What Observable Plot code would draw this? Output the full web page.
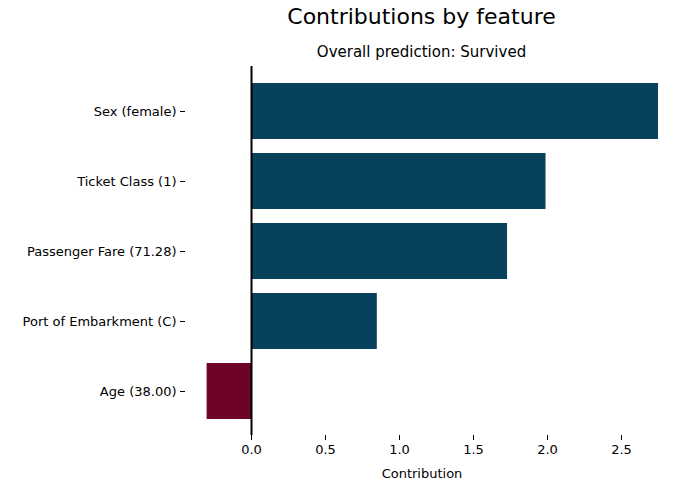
<!DOCTYPE html>
<html><head><meta charset="utf-8">
<script src="https://cdn.jsdelivr.net/npm/d3@7"></script>
<script src="https://cdn.jsdelivr.net/npm/@observablehq/plot@0.6"></script>
<style>
body{margin:0;font-family:"DejaVu Sans",sans-serif;background:#fff}
#t{position:absolute;left:185px;width:473px;top:4px;text-align:center;font-size:22px}
#s{position:absolute;left:185px;width:473px;top:43px;text-align:center;font-size:15px}
#chart{position:absolute;left:0;top:66px}
</style></head><body>
<div id="t">Contributions by feature</div>
<div id="s">Overall prediction: Survived</div>
<div id="chart"></div>
<script>
const features = ['Sex (female)', 'Ticket Class (1)', 'Passenger Fare (71.28)', 'Port of Embarkment (C)', 'Age (38.00)'];
const contributions = [2.75, 1.99, 1.73, 0.85, -0.30];
const data = features.map((f, i) => ({feature: f, value: contributions[i]}));

const chart = Plot.plot({
  width: 690,
  height: 424,
  marginLeft: 185,
  marginRight: 32,
  marginTop: 0,
  marginBottom: 55,
  style: {fontFamily: '"DejaVu Sans", sans-serif', fontSize: '13px', color: '#000'},
  x: {domain: [-0.446, 2.75], ticks: [0, 0.5, 1, 1.5, 2, 2.5], tickFormat: d3.format('.1f'), label: 'Contribution', labelAnchor: 'center', labelArrow: 'none', labelOffset: 45},
  y: {domain: features, paddingInner: 0.2, paddingOuter: 0.235, label: null},
  marks: [
    Plot.barX(data, {x: 'value', y: 'feature', fill: d => d.value >= 0 ? '#08415c' : '#6d0426'}),
    Plot.ruleX([0], {stroke: '#000', strokeWidth: 2}),
    Plot.axisX({ticks: [0, 0.5, 1, 1.5, 2, 2.5], tickFormat: d3.format('.1f'), tickSize: 5, tickPadding: 4, label: 'Contribution', labelAnchor: 'center', labelArrow: 'none', labelOffset: 42}),
    Plot.axisY({tickSize: 5, tickPadding: 4, label: null})
  ]
});
document.getElementById('chart').append(chart);
</script>
</body></html>
